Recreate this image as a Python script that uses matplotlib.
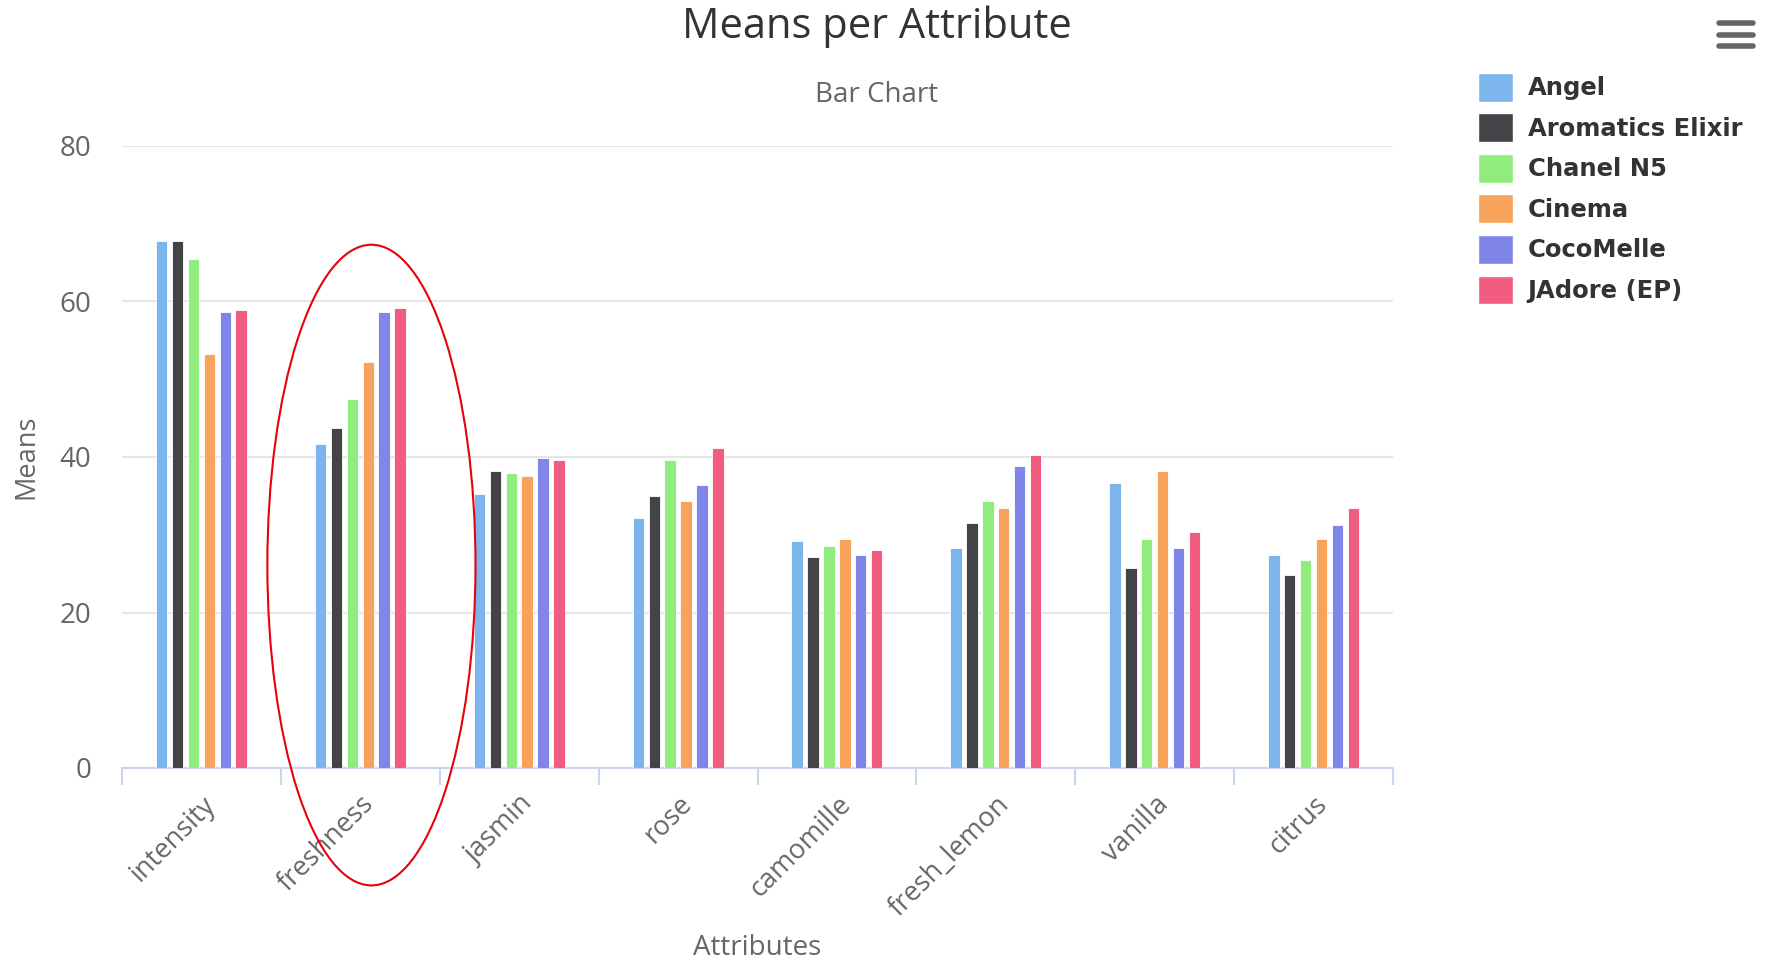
import numpy as np
import matplotlib
matplotlib.use("Agg")
import matplotlib.pyplot as plt
from matplotlib.patches import Ellipse, Patch
from matplotlib.lines import Line2D

plt.rcParams['font.family'] = ['Open Sans', 'DejaVu Sans']

attributes = ["intensity", "freshness", "jasmin", "rose", "camomille",
              "fresh_lemon", "vanilla", "citrus"]
perfumes = ["Angel", "Aromatics Elixir", "Chanel N5", "Cinema", "CocoMelle", "JAdore (EP)"]
colors = ["#7cb5ec", "#434348", "#90ed7d", "#f7a35c", "#8085e9", "#f15c80"]

angel = [67.8, 41.7, 35.3, 32.1, 29.2, 28.3, 36.7, 27.4]
aromatics = [67.8, 43.7, 38.2, 35.0, 27.1, 31.5, 25.7, 24.8]
chanel = [65.5, 47.5, 37.9, 39.6, 28.6, 34.4, 29.5, 26.8]
cinema = [53.3, 52.2, 37.6, 34.4, 29.5, 33.5, 38.2, 29.5]
cocomelle = [58.6, 58.6, 39.9, 36.4, 27.4, 38.8, 28.3, 31.2]
jadore = [58.9, 59.1, 39.6, 41.1, 28.0, 40.2, 30.3, 33.5]
series = [angel, aromatics, chanel, cinema, cocomelle, jadore]

W, H = 1772, 965
fig = plt.figure(figsize=(W / 100, H / 100), dpi=100)
ax = fig.add_axes([122 / W, 1 - 768 / H, (1393 - 122) / W, (768 - 146) / H])

x = np.arange(len(attributes))
slot = 0.1
bw = 0.072
for i, (vals, c, name) in enumerate(zip(series, colors, perfumes)):
    off = (i - (len(series) - 1) / 2) * slot
    ax.bar(x + off, vals, width=bw, color=c, edgecolor="white", linewidth=0.6,
           label=name, zorder=3)

ax.set_xlim(-0.5, len(attributes) - 0.5)
ax.set_ylim(0, 80)
ax.set_yticks([0, 20, 40, 60, 80])
ax.yaxis.grid(True, color="#e6e6e6", linewidth=1.5, zorder=0)
ax.tick_params(axis="y", length=0, pad=22, labelsize=20, labelcolor="#666666")
for s in ["top", "right", "left"]:
    ax.spines[s].set_visible(False)
ax.spines["bottom"].set_color("#ccd6eb")
ax.spines["bottom"].set_linewidth(1.5)

# boundaries as major ticks, labels on minor ticks at centres
ax.set_xticks(np.arange(-0.5, len(attributes) + 0.5, 1.0))
ax.set_xticklabels([])
ax.tick_params(axis="x", which="major", length=12, width=1.5, color="#ccd6eb")
ax.set_xticks(x, minor=True)
ax.set_xticklabels(attributes, minor=True, rotation=45, ha="right",
                   rotation_mode="anchor", fontsize=19.5, color="#666666")
ax.tick_params(axis="x", which="minor", length=0, pad=16)

ax.set_ylabel("Means", fontsize=19.5, color="#666666", labelpad=14)
fig.text((122 + 1393) / 2 / W, 1 - 948 / H, "Attributes", ha="center", va="center",
         fontsize=20, color="#666666")

fig.text(877 / W, 1 - 27 / H, "Means per Attribute", ha="center", va="center",
         fontsize=30, color="#333333")
fig.text(877 / W, 1 - 95 / H, "Bar Chart", ha="center", va="center",
         fontsize=20, color="#666666")

# red ellipse highlight around freshness
ax.add_patch(Ellipse((1.07, 26.1), 1.31, 82.4, fill=False, edgecolor="#e8000b",
                     linewidth=1.5, clip_on=False, zorder=5))

handles = [Patch(facecolor=c, edgecolor="white") for c in colors]
leg = fig.legend(handles, perfumes, loc="upper left",
                 bbox_to_anchor=(1456 / W, 1 - 51 / H), frameon=False,
                 prop={"family": "DejaVu Sans", "weight": "bold", "size": 17.5},
                 handlelength=1.45, handleheight=1.45, labelspacing=0.48,
                 handletextpad=0.6)
for t in leg.get_texts():
    t.set_color("#333333")

# menu icon
for yy in [23, 35, 46]:
    fig.add_artist(Line2D([1719 / W, 1753 / W], [1 - yy / H, 1 - yy / H],
                          color="#666666", linewidth=4, solid_capstyle="round"))

fig.savefig("out.png", dpi=100)
